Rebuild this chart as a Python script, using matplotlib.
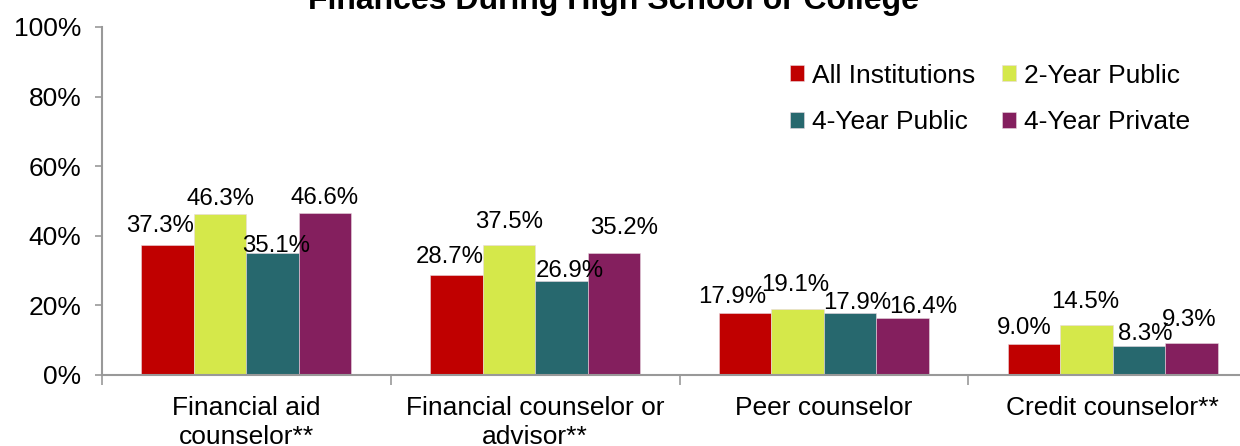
import matplotlib
matplotlib.use("Agg")
import matplotlib.pyplot as plt
import numpy as np

categories = ["Financial aid\ncounselor**", "Financial counselor or\nadvisor**",
              "Peer counselor", "Credit counselor**"]
series_names = ["All Institutions", "2-Year Public", "4-Year Public", "4-Year Private"]
all_institutions = [37.3, 28.7, 17.9, 9.0]
two_year_public = [46.3, 37.5, 19.1, 14.5]
four_year_public = [35.1, 26.9, 17.9, 8.3]
four_year_private = [46.6, 35.2, 16.4, 9.3]
y_ticks = [0, 20, 40, 60, 80, 100]
title = "Finances During High School or College"

series = [all_institutions, two_year_public, four_year_public, four_year_private]
colors = ["#C00000", "#D5E84A", "#27686E", "#841F5E"]

# data-label placement nudges (pixels: dx, visible gap above bar), as in the reference
label_dx = [[-7, -7, -13, -10], [0, 0, -2, -1], [3, 8, 7, 6], [-1, 10, 20, -2]]
label_gap = [[13, 12, 10, 10], [9, 17, 18, 17], [1, 4, 4, 6], [9, 19, 5, 17]]
descent_px = 5

plt.rcParams['font.family'] = ['Liberation Sans', 'DejaVu Sans']

fig = plt.figure(figsize=(12.4, 4.46), dpi=100)
L, R, B, T = 102, 1257, 375, 27
ax = fig.add_axes([L / 1240, (446 - B) / 446, (R - L) / 1240, (B - T) / 446])

x = np.arange(len(categories))
bw = 0.182
handles = []
for i, (vals, c, name) in enumerate(zip(series, colors, series_names)):
    pos = x + (i - 1.5) * bw
    bars = ax.bar(pos, vals, width=bw, color=c, label=name,
                  edgecolor="#e8d8e0", linewidth=0.4)
    handles.append(bars)
    for j, (p, v) in enumerate(zip(pos, vals)):
        ax.annotate(f"{v:.1f}%", (p, v),
                    xytext=(label_dx[i][j], label_gap[i][j] - descent_px),
                    textcoords="offset pixels",
                    ha="center", va="bottom", fontsize=17.3, color="black")

ax.set_xlim(-0.5, len(categories) - 0.5)
ax.set_ylim(0, 100)
ax.set_yticks(y_ticks)
ax.set_yticklabels([f"{t}%" for t in y_ticks], fontsize=19)
ax.set_xticks(x)
ax.set_xticklabels(categories, fontsize=19, linespacing=1.25)
ax.tick_params(axis='x', length=0, pad=15)
ax.set_xticks(np.arange(len(categories) + 1) - 0.5, minor=True)
ax.tick_params(axis='x', which='minor', length=7, color="#999999", width=1.2)
ax.tick_params(axis='y', length=5, color="#999999", width=1.2, pad=10)

for s in ["top", "right"]:
    ax.spines[s].set_visible(False)
for s in ["left", "bottom"]:
    ax.spines[s].set_color("#999999")
    ax.spines[s].set_linewidth(1.5)

order = [0, 2, 1, 3]
leg = ax.legend([handles[k] for k in order], [series_names[k] for k in order],
                ncol=2, loc="upper left", bbox_to_anchor=(766 / 1240, 1 - 40 / 446),
                bbox_transform=fig.transFigure, frameon=False, fontsize=19,
                handlelength=0.55, handleheight=0.55, handletextpad=0.3,
                columnspacing=1.0, labelspacing=0.85, borderpad=0.4)

fig.text(614 / 1240, 1 - 9 / 446, title, ha="center", va="baseline",
         fontsize=23, fontweight="bold")

fig.savefig("out.png", dpi=100)
